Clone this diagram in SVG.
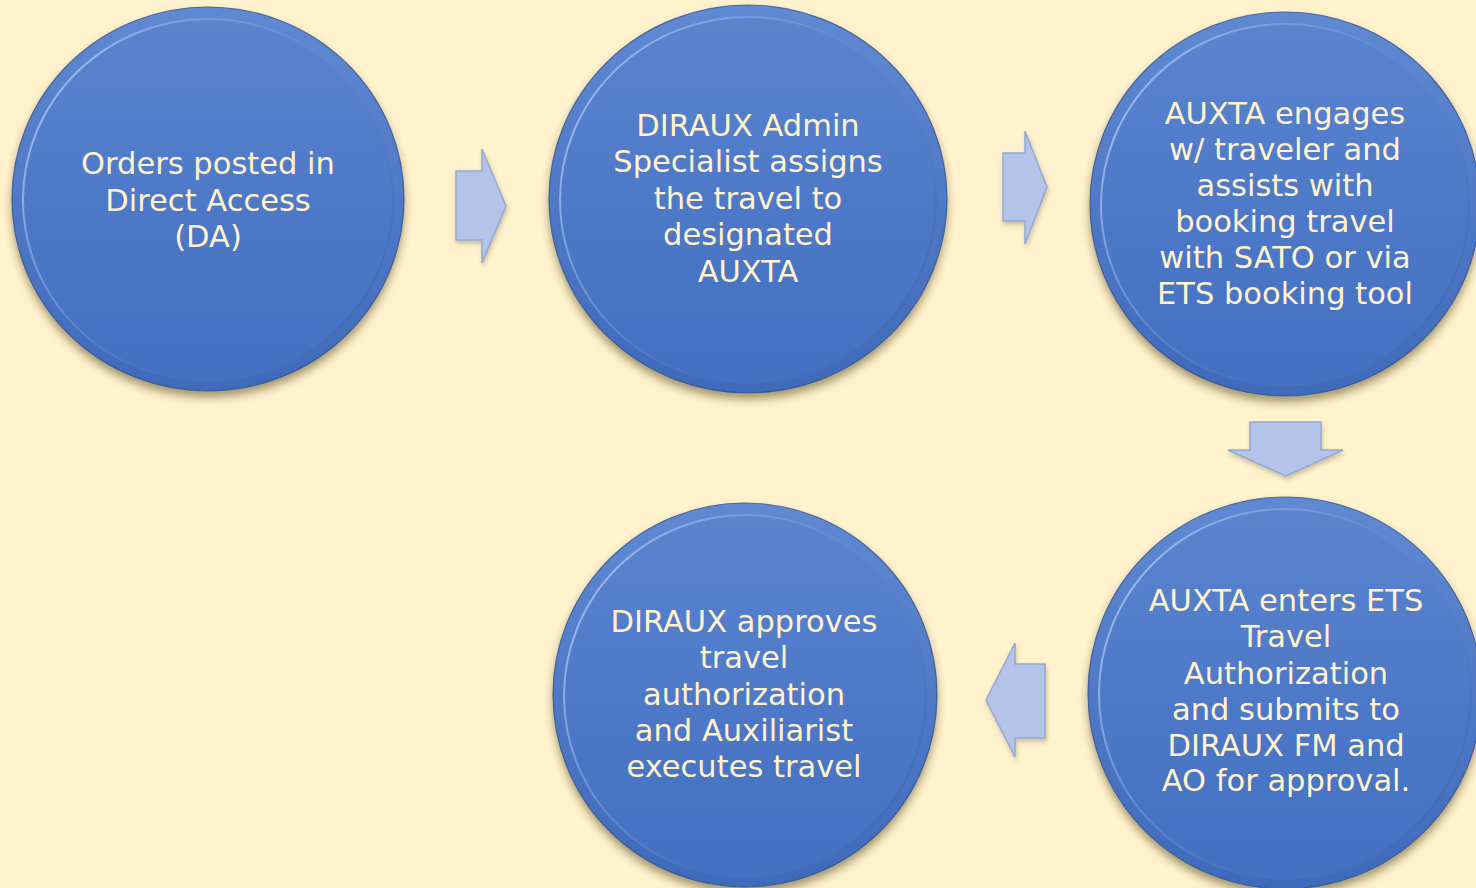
<svg xmlns="http://www.w3.org/2000/svg" width="1476" height="888" viewBox="0 0 1476 888">
  <defs>
    <style>
      .label { font-family: "DejaVu Sans", "Liberation Sans", sans-serif; font-size: 30.5px; fill: #fff2cc; text-anchor: middle; }
      .rim { fill: url(#rimGrad); stroke: #2f508a; stroke-width: 1.2; stroke-opacity: 0.75; filter: url(#discShadow); }
      .face { fill: url(#faceGrad); stroke: url(#edgeGrad); stroke-width: 2; }
      .arrow { fill: #b4c4e8; stroke: #93a8d8; stroke-width: 1.5; stroke-linejoin: miter; filter: url(#arrowShadow); }
    </style>
    <linearGradient id="rimGrad" x1="0" y1="0" x2="0" y2="1">
      <stop offset="0" stop-color="#6089d3"/>
      <stop offset="0.5" stop-color="#5079c6"/>
      <stop offset="1" stop-color="#3f6aba"/>
    </linearGradient>
    <linearGradient id="faceGrad" x1="0" y1="0" x2="0" y2="1">
      <stop offset="0" stop-color="#5b84cf"/>
      <stop offset="0.55" stop-color="#4c78c7"/>
      <stop offset="1" stop-color="#4370c1"/>
    </linearGradient>
    <!-- bevel edge: bright on the upper left, fading out, dark on the lower right -->
    <linearGradient id="edgeGrad" x1="0" y1="0.2" x2="1" y2="0.8">
      <stop offset="0" stop-color="#a8c4f4" stop-opacity="0.95"/>
      <stop offset="0.35" stop-color="#86a8e6" stop-opacity="0.45"/>
      <stop offset="0.65" stop-color="#5d84cc" stop-opacity="0.1"/>
      <stop offset="1" stop-color="#37609f" stop-opacity="0.6"/>
    </linearGradient>
    <filter id="discShadow" x="-10%" y="-10%" width="120%" height="125%">
      <feDropShadow dx="0" dy="6" stdDeviation="4.5" flood-color="#3a2a10" flood-opacity="0.45"/>
    </filter>
    <filter id="arrowShadow" x="-20%" y="-20%" width="150%" height="150%">
      <feDropShadow dx="1" dy="3" stdDeviation="2" flood-color="#5a4a30" flood-opacity="0.3"/>
    </filter>
  </defs>

  <rect width="1476" height="888" fill="#fff2cc"/>

  <!-- connectors -->
  <g id="connectors">
    <polygon class="arrow" points="456,171 482,171 482,149 506,206 482,263 482,240 456,240"/>
    <polygon class="arrow" points="1003,153 1025,153 1025,131 1047,187 1025,244 1025,221 1003,221"/>
    <polygon class="arrow" points="1250,422 1321,422 1321,450 1343,450 1286,476 1228,450 1250,450"/>
    <polygon class="arrow" points="1045,664 1015,664 1015,643 986,700 1015,757 1015,738 1045,738"/>
  </g>

  <!-- step 1 -->
  <g id="node-orders-posted">
    <ellipse class="rim" cx="208" cy="199" rx="196" ry="192"/>
    <ellipse class="face" cx="208" cy="200" rx="185" ry="181"/>
    <text class="label" x="208" y="174">Orders posted in</text>
    <text class="label" x="208" y="210.5">Direct Access</text>
    <text class="label" x="208" y="247">(DA)</text>
  </g>

  <!-- step 2 -->
  <g id="node-diraux-assigns">
    <ellipse class="rim" cx="748" cy="199" rx="199" ry="194"/>
    <ellipse class="face" cx="748" cy="200" rx="188" ry="183"/>
    <text class="label" x="748" y="136">DIRAUX Admin</text>
    <text class="label" x="748" y="172.4">Specialist assigns</text>
    <text class="label" x="748" y="208.8">the travel to</text>
    <text class="label" x="748" y="245.2">designated</text>
    <text class="label" x="748" y="281.6">AUXTA</text>
  </g>

  <!-- step 3 -->
  <g id="node-auxta-engages">
    <ellipse class="rim" cx="1285" cy="204" rx="195" ry="192"/>
    <ellipse class="face" cx="1285" cy="205" rx="184" ry="181"/>
    <text class="label" x="1285" y="124">AUXTA engages</text>
    <text class="label" x="1285" y="160">w/ traveler and</text>
    <text class="label" x="1285" y="196">assists with</text>
    <text class="label" x="1285" y="232">booking travel</text>
    <text class="label" x="1285" y="268">with SATO or via</text>
    <text class="label" x="1285" y="304">ETS booking tool</text>
  </g>

  <!-- step 4 -->
  <g id="node-auxta-enters">
    <ellipse class="rim" cx="1285" cy="693" rx="197" ry="196"/>
    <ellipse class="face" cx="1285" cy="694" rx="186" ry="185"/>
    <text class="label" x="1286" y="611">AUXTA enters ETS</text>
    <text class="label" x="1286" y="647">Travel</text>
    <text class="label" x="1286" y="684">Authorization</text>
    <text class="label" x="1286" y="720">and submits to</text>
    <text class="label" x="1286" y="756">DIRAUX FM and</text>
    <text class="label" x="1286" y="791">AO for approval.</text>
  </g>

  <!-- step 5 -->
  <g id="node-diraux-approves">
    <ellipse class="rim" cx="745" cy="695" rx="192" ry="192"/>
    <ellipse class="face" cx="745" cy="696" rx="181" ry="181"/>
    <text class="label" x="744" y="632">DIRAUX approves</text>
    <text class="label" x="744" y="668">travel</text>
    <text class="label" x="744" y="705">authorization</text>
    <text class="label" x="744" y="741">and Auxiliarist</text>
    <text class="label" x="744" y="777">executes travel</text>
  </g>
</svg>
